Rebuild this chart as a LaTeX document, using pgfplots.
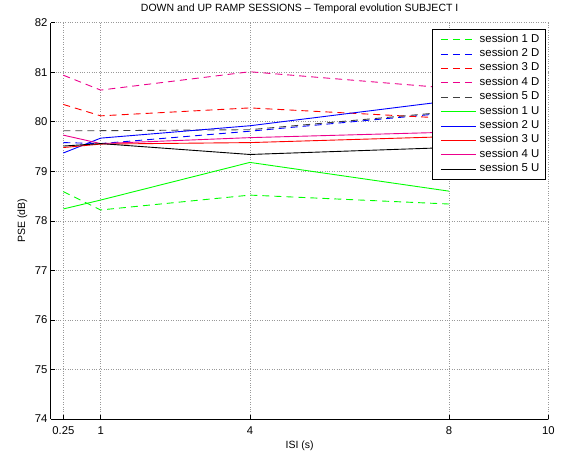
\documentclass[border=0pt]{standalone}
\usepackage{pgfplots}
\pgfplotsset{compat=1.18}
\usepackage{fontspec}
\setmainfont{Liberation Sans}
\begin{document}
\begin{tikzpicture}
\path[use as bounding box] (-50.9pt,-37pt) rectangle (514.1pt,419pt);
\begin{axis}[
  at={(0,0)}, anchor=south west,
  scale only axis, width=497.5pt, height=396.3pt,
  xmin=0, xmax=10, ymin=74, ymax=82,
  xtick={0.25,1,4,8,10}, xticklabels={0.25,1,4,8,10},
  ytick={74,75,76,77,78,79,80,81,82},
  axis x line*=bottom, axis y line*=left,
  axis line style={-, line width=0.8pt},
  tick align=inside, major tick length=4pt,
  tick style={line width=0.6pt, black},
  grid=major, grid style={dotted, line width=0.7pt, gray!80},
  /pgf/number format/assume math mode=true,
  ticklabel style={font=\fontsize{11.3}{13}\selectfont},
  xticklabel style={anchor=base, yshift=-15pt},
  label style={font=\fontsize{10.5}{12}\selectfont},
  every axis title shift=0pt,
  title style={font=\fontsize{10.5}{12}\selectfont, at={(axis description cs:0.5,1)}, anchor=base, yshift=11.7pt},
  title={DOWN and UP RAMP SESSIONS -- Temporal evolution SUBJECT I},
  xlabel={ISI (s)}, ylabel={PSE (dB)},
  xlabel style={at={(axis description cs:0.5,0)}, anchor=base, yshift=-29pt},
  ylabel style={at={(axis description cs:-0.0575,0.5)}, anchor=center},
  every axis plot/.append style={line width=0.9pt},
  legend style={at={(axis description cs:1,1)}, anchor=north east, xshift=-2.4pt, yshift=-6.3pt,
    draw, line width=0.8pt, font=\fontsize{11.4}{13}\selectfont, inner sep=3pt,
    nodes={inner ysep=2.5pt, inner xsep=3.3pt, text height=7.2pt, text depth=2.2pt}},
  legend cell align=left,
  legend image code/.code={\path (0pt,0pt); \draw[#1, line width=1pt] (4.7pt,0pt) -- (39.7pt,0pt);},
]
\addplot[color={rgb,1:red,0;green,1;blue,0}, dash pattern=on 7pt off 5pt] coordinates {(0.25,78.59) (1,78.22) (4,78.52) (8,78.34)};
\addlegendentry{session 1 D}
\addplot[blue, dash pattern=on 7pt off 5pt] coordinates {(0.25,79.58) (1,79.56) (4,79.81) (8,80.18)};
\addlegendentry{session 2 D}
\addplot[red, dash pattern=on 7pt off 5pt] coordinates {(0.25,80.35) (1,80.12) (4,80.28) (8,80.07)};
\addlegendentry{session 3 D}
\addplot[magenta, dash pattern=on 7pt off 5pt] coordinates {(0.25,80.94) (1,80.64) (4,81.01) (8,80.68)};
\addlegendentry{session 4 D}
\addplot[black!75, dash pattern=on 7pt off 5pt] coordinates {(0.25,79.82) (1,79.82) (4,79.84) (8,80.2)};
\addlegendentry{session 5 D}
\addplot[color={rgb,1:red,0;green,1;blue,0}] coordinates {(0.25,78.24) (1,78.42) (4,79.18) (8,78.6)};
\addlegendentry{session 1 U}
\addplot[blue] coordinates {(0.25,79.37) (1,79.67) (4,79.92) (8,80.42)};
\addlegendentry{session 2 U}
\addplot[red] coordinates {(0.25,79.48) (1,79.55) (4,79.58) (8,79.7)};
\addlegendentry{session 3 U}
\addplot[magenta] coordinates {(0.25,79.73) (1,79.56) (4,79.68) (8,79.79)};
\addlegendentry{session 4 U}
\addplot[black] coordinates {(0.25,79.51) (1,79.56) (4,79.34) (8,79.48)};
\addlegendentry{session 5 U}
\end{axis}
\end{tikzpicture}
\end{document}
